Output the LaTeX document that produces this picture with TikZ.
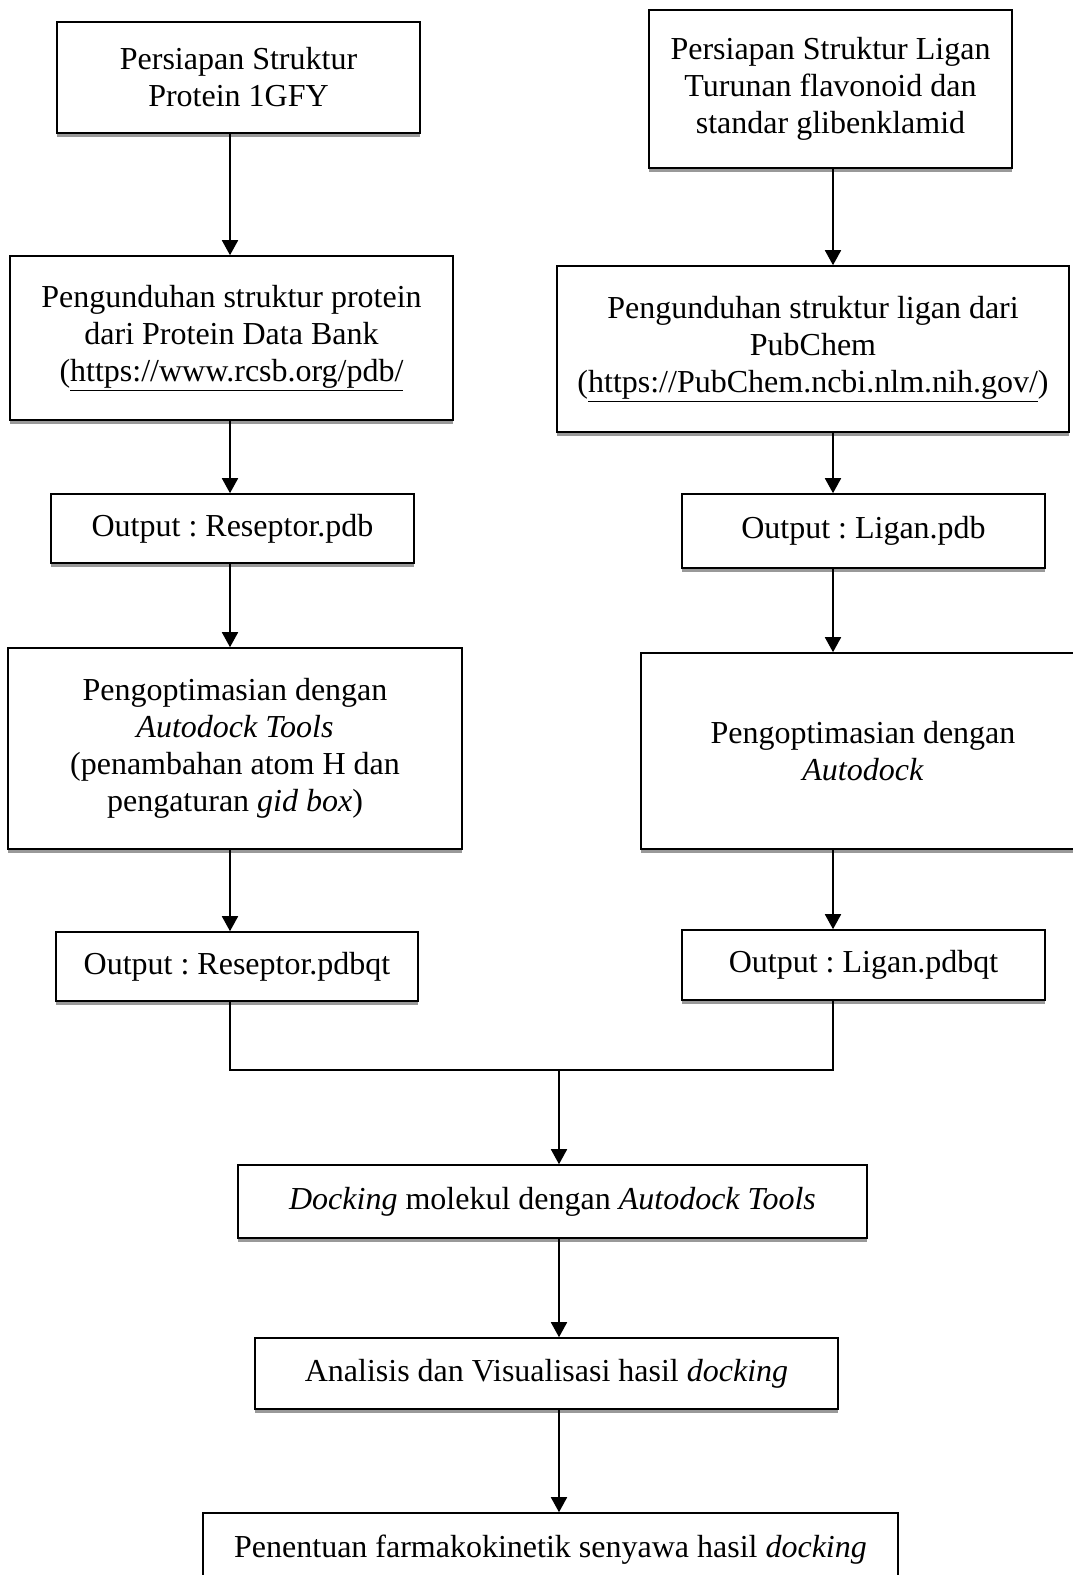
\documentclass[tikz,border=0pt]{standalone}
\usepackage{fontspec}
\setmainfont{Liberation Serif}
\usetikzlibrary{arrows.meta, positioning, shadows}
\frenchspacing

\begin{document}
\begin{tikzpicture}[x=1pt, y=-1pt,
            box/.style={draw=black, line width=1.6pt, fill=white, inner sep=0pt, align=center,
                font=\fontsize{32}{37}\selectfont,
                drop shadow={shadow xshift=0pt, shadow yshift=-3.5pt, opacity=1, fill=black!40}},
            arr/.style={line width=1.8pt, -{Triangle[width=16pt, length=15pt]}},
            link/.style={line width=1.8pt}
        ]
            \useasboundingbox (0,0) rectangle (1073,1575);
            \coordinate (colL) at (230,0);
            \coordinate (colR) at (833,0);
            \coordinate (merge) at (559,1070);

            % left column: receptor
            \node[box, minimum width=363pt, minimum height=111pt] (prot) at (238.5,77.5) {Persiapan Struktur \\ Protein 1GFY};
            \node[box, minimum width=443pt, minimum height=164pt] (protdl) at (231.5,338) {Pengunduhan struktur protein \\ dari Protein Data Bank \\ (\underline{https://www.rcsb.org/pdb/}};
            \node[box, minimum width=363pt, minimum height=69pt] (recpdb) at (232.5,528.5) {Output : Reseptor.pdb};
            \node[box, minimum width=454pt, minimum height=201pt] (protopt) at (235,748.5) {Pengoptimasian dengan \\ \textit{Autodock Tools} \\ (penambahan atom H dan \\ pengaturan \textit{gid box})};
            \node[box, minimum width=362pt, minimum height=69pt] (recqt) at (237,966.5) {Output : Reseptor.pdbqt};

            % right column: ligand
            \node[box, minimum width=363pt, minimum height=158pt] (lig) at (830.5,89) {Persiapan Struktur Ligan \\ Turunan flavonoid dan \\ standar glibenklamid};
            \node[box, minimum width=512pt, minimum height=166pt] (ligdl) at (813,349) {Pengunduhan struktur ligan dari \\ PubChem \\ (\underline{https://PubChem.ncbi.nlm.nih.gov/})};
            \node[box, minimum width=363pt, minimum height=74pt] (ligpdb) at (863.5,531) {Output : Ligan.pdb};
            \node[box, minimum width=444pt, minimum height=196pt] (ligopt) at (863,751) {Pengoptimasian dengan \\ \textit{Autodock}};
            \node[box, minimum width=363pt, minimum height=70pt] (ligqt) at (863.5,965) {Output : Ligan.pdbqt};

            % merged steps
            \node[box, minimum width=629pt, minimum height=73pt] (dock) at (552.5,1201.5) {\textit{Docking} molekul dengan \textit{Autodock Tools}};
            \node[box, minimum width=583pt, minimum height=71pt] (anal) at (546.5,1373.5) {Analisis dan Visualisasi hasil \textit{docking}};
            \node[box, minimum width=695pt, minimum height=74pt] (pk) at (550.5,1550) {Penentuan farmakokinetik senyawa hasil \textit{docking}};

            \draw[arr] (prot.south -| colL) -- (protdl.north -| colL);
            \draw[arr] (protdl.south -| colL) -- (recpdb.north -| colL);
            \draw[arr] (recpdb.south -| colL) -- (protopt.north -| colL);
            \draw[arr] (protopt.south -| colL) -- (recqt.north -| colL);

            \draw[arr] (lig.south -| colR) -- (ligdl.north -| colR);
            \draw[arr] (ligdl.south -| colR) -- (ligpdb.north -| colR);
            \draw[arr] (ligpdb.south -| colR) -- (ligopt.north -| colR);
            \draw[arr] (ligopt.south -| colR) -- (ligqt.north -| colR);

            \draw[link] (recqt.south -| colL) -- (colL |- merge) -- (colR |- merge) -- (ligqt.south -| colR);
            \draw[arr] (merge) -- (dock.north -| merge);
            \draw[arr] (dock.south -| merge) -- (anal.north -| merge);
            \draw[arr] (anal.south -| merge) -- (pk.north -| merge);
        \end{tikzpicture}
\end{document}
